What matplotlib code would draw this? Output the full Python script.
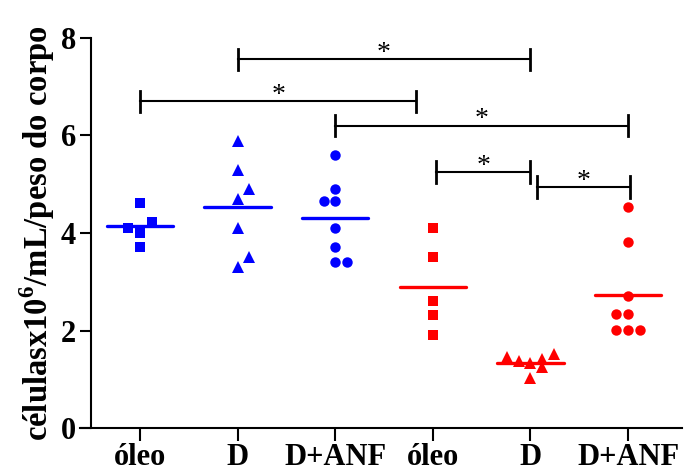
import numpy as np
import matplotlib
matplotlib.use("Agg")
import matplotlib.pyplot as plt

plt.rcParams['font.family'] = ['Liberation Serif', 'DejaVu Serif']
plt.rcParams['font.weight'] = 'bold'
plt.rcParams['mathtext.fontset'] = 'custom'
plt.rcParams['mathtext.rm'] = 'Liberation Serif'
plt.rcParams['mathtext.bf'] = 'Liberation Serif:bold'

# grupos (eixo x)
grupos = ['óleo', 'D', 'D+ANF', 'óleo', 'D', 'D+ANF']

# valores de cada animal por grupo (células x10^6/mL/peso do corpo)
oleo_azul = [4.62, 4.22, 4.11, 4.01, 3.71]
d_azul = [5.89, 5.29, 4.90, 4.69, 4.10, 3.51, 3.30]
danf_azul = [5.61, 4.91, 4.66, 4.66, 4.11, 3.71, 3.41, 3.41]
oleo_verm = [4.10, 3.51, 2.61, 2.31, 1.91]
d_verm = [1.46, 1.37, 1.33, 1.42, 1.26, 1.52, 1.03]
danf_verm = [4.53, 3.81, 2.71, 2.34, 2.34, 2.02, 2.02, 2.02]

# coluna de cada ponto dentro do grupo (-1 esquerda, 0 centro, 1 direita)
col_oleo_azul = [0, 1, -1, 0, 0]
col_d_azul = [0, 0, 1, 0, 0, 1, 0]
col_danf_azul = [0, 0, -1, 0, 0, 0, 0, 1]
col_oleo_verm = [0, 0, 0, 0, 0]
col_d_verm = [-2, -1, 0, 1, 1, 2, 0]
col_danf_verm = [0, 0, 0, -1, 0, -1, 0, 1]

# comparações significativas (grupo inicial, grupo final, altura)
comp_ini = [2, 1, 3, 4.03, 5.07]
comp_fim = [5, 3.83, 6, 5, 6.02]
comp_y = [7.56, 6.70, 6.20, 5.25, 4.94]

series = [
    (oleo_azul, col_oleo_azul, 's', 'blue'),
    (d_azul, col_d_azul, '^', 'blue'),
    (danf_azul, col_danf_azul, 'o', 'blue'),
    (oleo_verm, col_oleo_verm, 's', 'red'),
    (d_verm, col_d_verm, '^', 'red'),
    (danf_verm, col_danf_verm, 'o', 'red'),
]
msize = {'s': 7.5, '^': 8.5, 'o': 7.5}

fig = plt.figure(figsize=(6.84, 4.73), dpi=100)
ax = fig.add_axes([80 / 684, 1 - 428 / 473, 602 / 684, 390 / 473])
# eixo y deslocado (antes de configurar os ticks, senão eles são recriados)
ax.spines['left'].set_position(('data', 0.5))
ax.spines['top'].set_visible(False)
ax.spines['right'].set_visible(False)
ax.spines['left'].set_linewidth(1.5)
ax.spines['bottom'].set_linewidth(1.5)

for i, (vals, cols, mk, cor) in enumerate(series):
    xc = i + 1
    xs = xc + 0.12 * np.array(cols)
    ax.plot(xs, vals, linestyle='none', marker=mk, ms=msize[mk],
            color=cor, markeredgewidth=0, zorder=3)
    ax.plot([xc - 0.34, xc + 0.34], [np.mean(vals)] * 2, color=cor,
            lw=2.4, solid_capstyle='round', zorder=2)

# barras de significância com asterisco
for x1, x2, y in zip(comp_ini, comp_fim, comp_y):
    ax.plot([x1, x2], [y, y], color='black', lw=1.5, clip_on=False)
    for xe in (x1, x2):
        ax.plot([xe, xe], [y - 0.22, y + 0.22], color='black', lw=2,
                clip_on=False)
    ax.text((x1 + x2) / 2, y - 0.01, '*', ha='center', va='baseline',
            fontsize=20, fontweight='normal')

ax.set_xlim(0.385, 6.553)
ax.set_ylim(0, 8)
ax.set_yticks([0, 2, 4, 6, 8])
ax.set_xticks(range(1, 7))
ax.set_xticklabels(grupos, fontsize=22, fontweight='bold')
ax.set_yticklabels(['0', '2', '4', '6', '8'], fontsize=22, fontweight='bold')
ax.tick_params(axis='x', length=9, width=1.5, pad=2)
ax.tick_params(axis='y', length=8, width=1.5, pad=3)
ax.set_ylabel(r'célulasx10$^{\mathbf{6}}$/mL/peso do corpo', fontsize=23.5,
              fontweight='bold', labelpad=3)

fig.savefig('out.png', dpi=100)
